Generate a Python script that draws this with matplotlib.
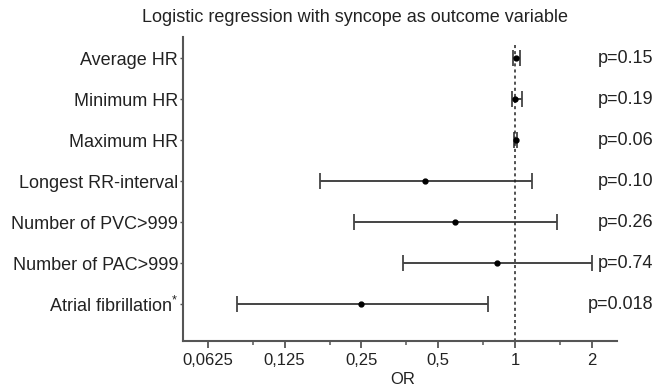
import numpy as np
import matplotlib
matplotlib.use('Agg')
import matplotlib.pyplot as plt
from matplotlib.ticker import FixedLocator, FixedFormatter, NullFormatter
import matplotlib.transforms as mtransforms

plt.rcParams['font.family'] = ['Liberation Sans', 'DejaVu Sans']
plt.rcParams['mathtext.default'] = 'regular'

# data
labels = ['Average HR', 'Minimum HR', 'Maximum HR', 'Longest RR-interval',
          'Number of PVC>999', 'Number of PAC>999', 'Atrial fibrillation$^{*}$']
odds = [1.01, 1.00, 1.005, 0.445, 0.58, 0.85, 0.25]
ci_low = [0.98, 0.97, 0.99, 0.172, 0.233, 0.365, 0.081]
ci_high = [1.045, 1.06, 1.02, 1.165, 1.46, 2.0, 0.78]
pvals = ['p=0.15', 'p=0.19', 'p=0.06', 'p=0.10', 'p=0.26', 'p=0.74', 'p=0.018']
xticks = [0.0625, 0.125, 0.25, 0.5, 1, 2]
xticklabels = ['0,0625', '0,125', '0,25', '0,5', '1', '2']

rows = np.arange(1, len(labels) + 1)
odds = np.array(odds)
err = np.vstack([odds - np.array(ci_low), np.array(ci_high) - odds])

fig = plt.figure(figsize=(6.61, 3.87), dpi=100)
ax = fig.add_axes([0.277, 0.120, 0.656, 0.784])

ax.errorbar(odds, rows, xerr=err, fmt='o', color='#333333', ecolor='#444444',
            elinewidth=1.4, capsize=5.5, capthick=1.3, markersize=3.5,
            markerfacecolor='black', markeredgecolor='black')

ax.set_xscale('log', base=2)
ax.set_xlim(0.05, 2.5)
ax.set_ylim(7.88, 0.49)
ax.vlines(1, 0.68, 7.88, colors='#222222', linestyles=(0, (2, 2)), linewidth=1.1)

ax.xaxis.set_major_locator(FixedLocator(xticks))
ax.xaxis.set_major_formatter(FixedFormatter(xticklabels))
ax.xaxis.set_minor_locator(FixedLocator([t * 1.5 for t in xticks]))
ax.xaxis.set_minor_formatter(NullFormatter())
ax.set_yticks(rows)
ax.set_yticklabels(labels)

for s in ['top', 'right']:
    ax.spines[s].set_visible(False)
for s in ['left', 'bottom']:
    ax.spines[s].set_color('#555555')
    ax.spines[s].set_linewidth(1.5)

ax.tick_params(axis='x', which='major', length=5, width=1.3, color='#555555',
               labelsize=12, pad=4, labelcolor='#222222')
ax.tick_params(axis='x', which='minor', length=3, width=1.1, color='#555555')
ax.tick_params(axis='y', length=2.5, width=1, color='#555555', labelsize=13,
               pad=1, labelcolor='#222222')

fig.text(403 / 661, 1 - 379 / 387, 'OR', ha='center', va='center',
         fontsize=12, color='#222222')

# p-values, right-aligned outside the axes
trans = mtransforms.blended_transform_factory(ax.transAxes, ax.transData)
for r, p in zip(rows, pvals):
    ax.text(1.085, r, p, transform=trans, ha='right', va='center',
            fontsize=13, color='#222222', clip_on=False)

fig.text(355 / 661, 1 - 17 / 387, 'Logistic regression with syncope as outcome variable',
         ha='center', va='center', fontsize=13, color='#222222')

fig.savefig('out.png', dpi=100)
